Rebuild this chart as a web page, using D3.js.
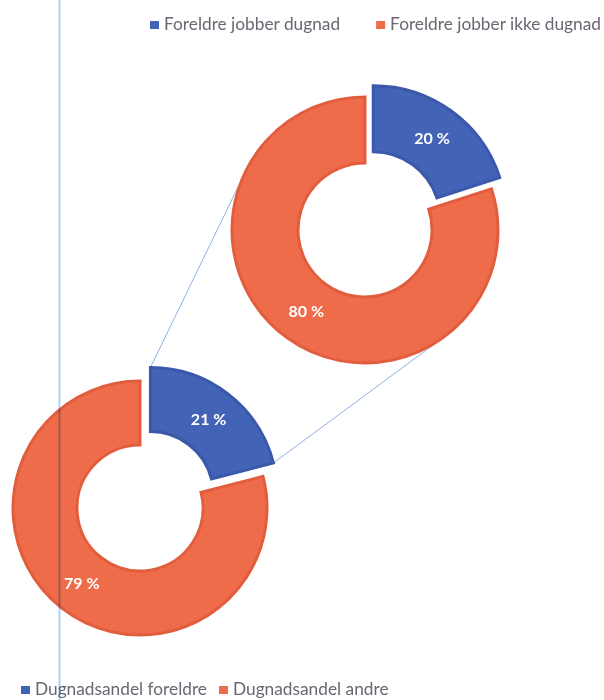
<!DOCTYPE html>
<html>
<head>
<meta charset="utf-8">
<script src="https://cdn.jsdelivr.net/npm/d3@7"></script>
<style>
  body { margin: 0; background: #fff; }
  text { font-family: Lato, "Open Sans", sans-serif; }
</style>
</head>
<body>
<div id="chart"></div>
<script>
/**
 * CONSTANTS AND DATA
 * */
const width = 604, height = 700;

// top donut
const topCategories = ["Foreldre jobber dugnad", "Foreldre jobber ikke dugnad"];
const topValues = [20, 80];
// bottom donut
const bottomCategories = ["Dugnadsandel foreldre", "Dugnadsandel andre"];
const bottomValues = [21, 79];

const fills = ["#4263b6", "#ef6c4b"];
const edges = ["#3b58aa", "#e15d3d"];

const svg = d3.select("#chart")
  .append("svg")
  .attr("width", width)
  .attr("height", height);

svg.append("rect")
  .attr("width", width)
  .attr("height", height)
  .attr("fill", "#fff");

// layout of the two donuts
const topDonut = { cx: 365, cy: 230, outer: 133, inner: 67, explode: 14 };
const bottomDonut = { cx: 140, cy: 508, outer: 127, inner: 63, explode: 17 };

const pie = d3.pie().sort(null).value(d => d.value);

function slices(cats, vals) {
  return pie(cats.map((c, i) => ({ name: c, value: vals[i], idx: i })));
}

const topSlices = slices(topCategories, topValues);
const bottomSlices = slices(bottomCategories, bottomValues);

// offset for the exploded (first) slice
function offset(s, d) {
  if (s.index !== 0) return [0, 0];
  const mid = (s.startAngle + s.endAngle) / 2;
  return [Math.sin(mid) * d, -Math.cos(mid) * d];
}

// connector lines: tangents from the bottom blue slice corners to the top donut
const bBlue = bottomSlices[0];
const [bdx, bdy] = offset(bBlue, bottomDonut.explode);
function corner(angle) {
  return [bottomDonut.cx + bdx + Math.sin(angle) * bottomDonut.outer,
          bottomDonut.cy + bdy - Math.cos(angle) * bottomDonut.outer];
}
function tangent(p, sign) {
  const vx = topDonut.cx - p[0], vy = topDonut.cy - p[1];
  const dist = Math.hypot(vx, vy);
  const theta = Math.atan2(vy, vx);
  const alpha = Math.asin(topDonut.outer / dist);
  const len = Math.sqrt(dist * dist - topDonut.outer * topDonut.outer);
  const a = theta + sign * alpha;
  return [p[0] + Math.cos(a) * len, p[1] + Math.sin(a) * len];
}
const p1 = corner(bBlue.startAngle), p2 = corner(bBlue.endAngle);
const connectors = [[p1, tangent(p1, -1)], [p2, tangent(p2, 1)]];

svg.selectAll("line.connector")
  .data(connectors)
  .join("line")
  .attr("class", "connector")
  .attr("x1", d => d[0][0]).attr("y1", d => d[0][1])
  .attr("x2", d => d[1][0]).attr("y2", d => d[1][1])
  .attr("stroke", "#8fb0e6")
  .attr("stroke-width", 1);

function drawDonut(cfg, data, cls) {
  const arc = d3.arc().innerRadius(cfg.inner).outerRadius(cfg.outer);
  const g = svg.append("g")
    .attr("class", cls)
    .attr("transform", `translate(${cfg.cx},${cfg.cy})`);

  const parts = g.selectAll("g.slice")
    .data(data)
    .join("g")
    .attr("class", "slice")
    .attr("transform", d => {
      const [dx, dy] = offset(d, cfg.explode);
      return `translate(${dx},${dy})`;
    });

  parts.append("path")
    .attr("d", arc)
    .attr("fill", d => fills[d.data.idx])
    .attr("stroke", d => edges[d.data.idx])
    .attr("stroke-width", 3);

  parts.append("text")
    .attr("transform", d => `translate(${arc.centroid(d)})`)
    .attr("text-anchor", "middle")
    .attr("dy", "0.36em")
    .attr("fill", "#fff")
    .attr("font-size", 16)
    .attr("font-weight", "bold")
    .text(d => d.data.value + " %");
}

drawDonut(topDonut, topSlices, "top-donut");
drawDonut(bottomDonut, bottomSlices, "bottom-donut");

// legends
function legend(cats, x0, y, gap) {
  const g = svg.append("g").attr("class", "legend");
  let x = x0;
  cats.forEach((c, i) => {
    g.append("rect")
      .attr("x", x).attr("y", y - 9)
      .attr("width", 9).attr("height", 8)
      .attr("fill", fills[i]);
    const t = g.append("text")
      .attr("x", x + 14)
      .attr("y", y)
      .attr("fill", "#6b6672")
      .attr("font-size", 17.3)
      .text(c);
    x += 14 + t.node().getComputedTextLength() + gap;
  });
}
legend(topCategories, 150, 30, 36);
legend(bottomCategories, 21, 695, 12);

// vertical guide line from the page behind the chart
svg.append("line")
  .attr("x1", 59.5).attr("x2", 59.5)
  .attr("y1", 0).attr("y2", height)
  .attr("stroke", "#a9d4f7")
  .attr("stroke-width", 2)
  .style("mix-blend-mode", "multiply");
</script>
</body>
</html>
